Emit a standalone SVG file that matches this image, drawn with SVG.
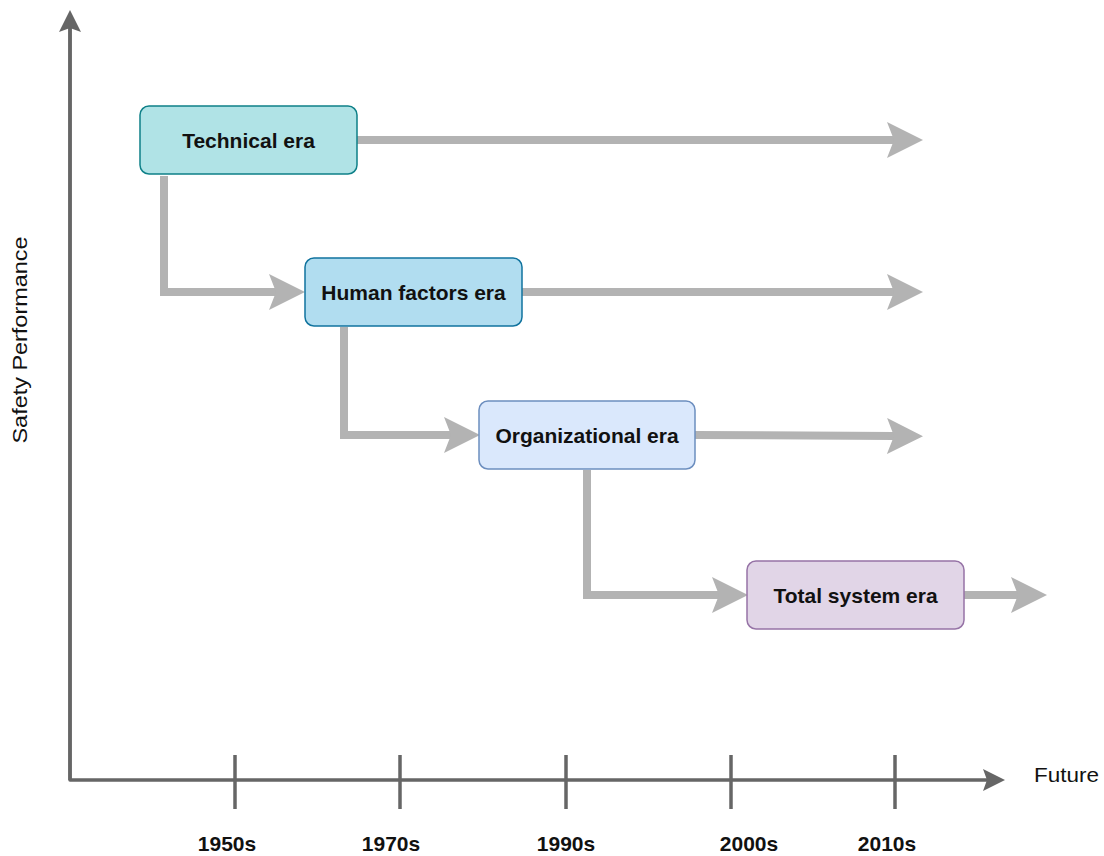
<svg xmlns="http://www.w3.org/2000/svg" width="1104" height="856" viewBox="0 0 1104 856">
  <style>
    .era rect { stroke-width: 1.5; }
    .era text { font-family: "Liberation Sans", Arial, sans-serif; font-weight: bold; font-size: 21px; fill: #111; text-anchor: middle; }
    .flow { fill: none; stroke: #b3b3b3; stroke-width: 8; stroke-linejoin: miter; }
    .axis { fill: none; stroke: #666666; stroke-width: 3.5; stroke-linejoin: round; }
    .tick { stroke: #666666; stroke-width: 3.5; }
    .lbl { font-family: "Liberation Sans", Arial, sans-serif; font-size: 21px; fill: #111; }
    .year { font-weight: bold; text-anchor: middle; }
  </style>
  <defs>
    <marker id="flowHead" markerUnits="userSpaceOnUse" markerWidth="38" markerHeight="38" refX="7" refY="18" orient="auto">
      <path d="M0,0 L36,18 L0,36 L7,18 Z" fill="#b3b3b3"/>
    </marker>
    <marker id="axisHead" markerUnits="userSpaceOnUse" markerWidth="24" markerHeight="24" refX="4" refY="11" orient="auto">
      <path d="M0,0 L22,11 L0,22 L4,11 Z" fill="#666666"/>
    </marker>
  </defs>

  <!-- axes -->
  <g id="axes">
    <path class="axis" d="M70,28 V780 H987" marker-end="url(#axisHead)"/>
    <path class="axis" d="M70,780 V28" marker-end="url(#axisHead)" stroke="none"/>
    <line class="tick" x1="235" y1="755" x2="235" y2="809"/>
    <line class="tick" x1="400" y1="755" x2="400" y2="809"/>
    <line class="tick" x1="566" y1="755" x2="566" y2="809"/>
    <line class="tick" x1="731" y1="755" x2="731" y2="809"/>
    <line class="tick" x1="895" y1="755" x2="895" y2="809"/>
    <text class="lbl year" x="227" y="851">1950s</text>
    <text class="lbl year" x="391" y="851">1970s</text>
    <text class="lbl year" x="566" y="851">1990s</text>
    <text class="lbl year" x="749" y="851">2000s</text>
    <text class="lbl year" x="887" y="851">2010s</text>
    <text class="lbl" x="1034" y="782" font-size="22" textLength="65" lengthAdjust="spacingAndGlyphs">Future</text>
    <text class="lbl" transform="translate(27,340) rotate(-90)" text-anchor="middle" textLength="207" lengthAdjust="spacingAndGlyphs">Safety Performance</text>
  </g>

  <!-- connectors -->
  <g id="connectors">
    <path class="flow" d="M357,140 H894" marker-end="url(#flowHead)"/>
    <path class="flow" d="M522,292 H894" marker-end="url(#flowHead)"/>
    <path class="flow" d="M695,435 L894,436" marker-end="url(#flowHead)"/>
    <path class="flow" d="M964,595 H1018" marker-end="url(#flowHead)"/>
    <path class="flow" d="M164,176 V292 H276" marker-end="url(#flowHead)"/>
    <path class="flow" d="M344,327 V435 H451" marker-end="url(#flowHead)"/>
    <path class="flow" d="M587,470 V595 H719" marker-end="url(#flowHead)"/>
  </g>

  <!-- era nodes -->
  <g id="technical" class="era">
    <rect x="140" y="106" width="217" height="68" rx="9" fill="#b0e3e6" stroke="#0e8088"/>
    <text x="248.5" y="147.5">Technical era</text>
  </g>
  <g id="human-factors" class="era">
    <rect x="305" y="258" width="217" height="68" rx="9" fill="#b1ddf0" stroke="#10739e"/>
    <text x="413.5" y="299.5">Human factors era</text>
  </g>
  <g id="organizational" class="era">
    <rect x="479" y="401" width="216" height="68" rx="9" fill="#dae8fc" stroke="#6c8ebf"/>
    <text x="587" y="442.5">Organizational era</text>
  </g>
  <g id="total-system" class="era">
    <rect x="747" y="561" width="217" height="68" rx="9" fill="#e1d5e7" stroke="#9673a6"/>
    <text x="855.5" y="602.5">Total system era</text>
  </g>
</svg>
